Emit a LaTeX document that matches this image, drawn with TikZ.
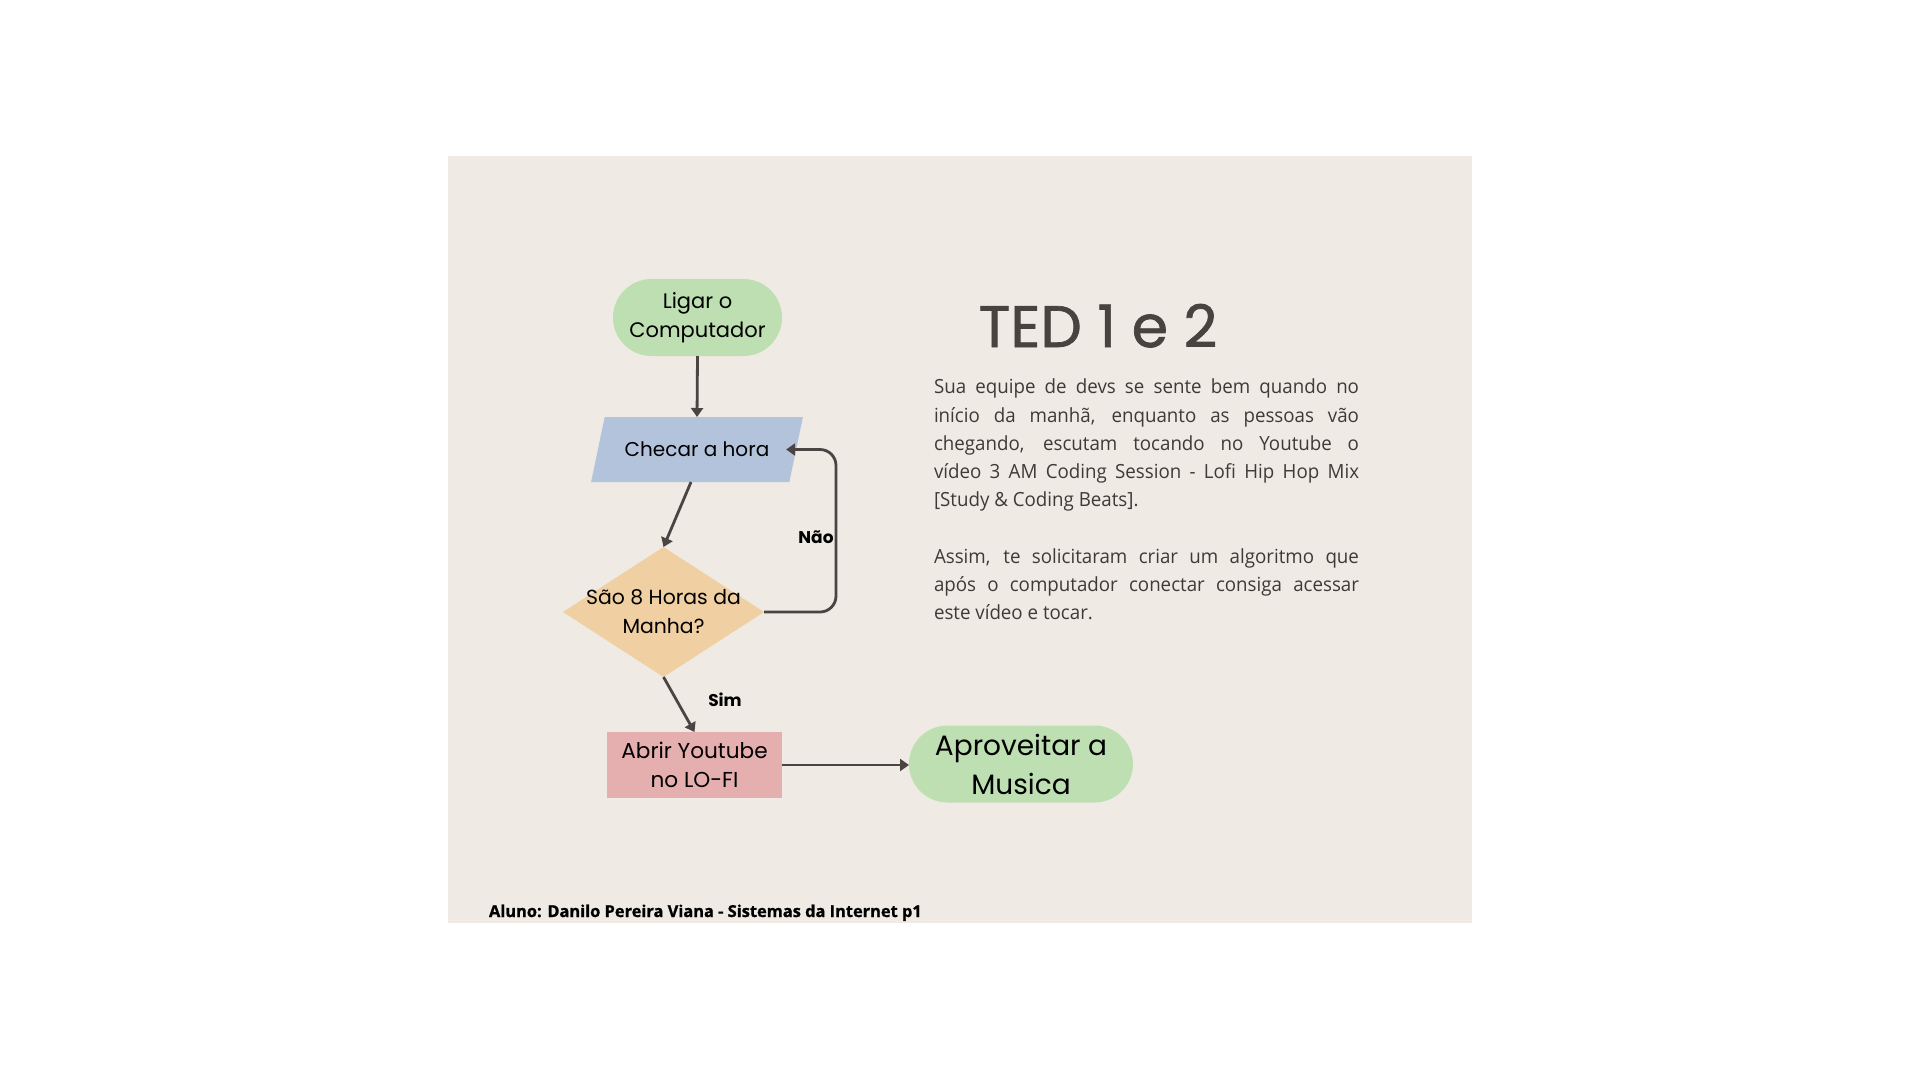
\documentclass[tikz,border=0pt]{standalone}
\usepackage{fontspec}
\setmainfont{Open Sans}
\newfontfamily\flowfont{Poppins}
\newfontfamily\titlefont[FakeBold=1.2]{Poppins}
\newfontfamily\bodyfont[FakeStretch=0.96]{Open Sans}
\newfontfamily\footfont[BoldFeatures={FakeBold=1}]{Open Sans}
\usetikzlibrary{shapes.geometric,shapes.misc,arrows.meta,calc}
\definecolor{panel}{HTML}{EFEAE4}
\definecolor{greenf}{HTML}{BDDFB2}
\definecolor{bluef}{HTML}{B4C3DC}
\definecolor{orangef}{HTML}{F0CFA2}
\definecolor{pinkf}{HTML}{E5AFAF}
\definecolor{arrowc}{HTML}{4A4543}
\definecolor{titlec}{HTML}{48433F}
\definecolor{bodyc}{HTML}{3F3A37}
\tikzset{
  every node/.style={inner sep=0pt, outer sep=0pt},
  flowlabel/.style={font=\flowfont\fontsize{20}{28.5}\selectfont, text=black, align=center},
  terminal/.style={flowlabel, rounded rectangle, fill=greenf},
  inputbox/.style={flowlabel, trapezium, trapezium left angle=54.7, trapezium right angle=125.3, trapezium stretches=true, fill=bluef},
  decision/.style={diamond, fill=orangef},
  process/.style={flowlabel, rectangle, fill=pinkf},
  arr/.style={draw=arrowc, line width=2.8pt, -{Triangle[length=9pt,width=12pt]}},
  edgelabel/.style={font=\flowfont\bfseries\fontsize{17}{20}\selectfont, text=black},
}
\begin{document}
\begin{tikzpicture}[x=1pt,y=-1pt]
\useasboundingbox (0,0) rectangle (1920,1080);
\fill[white] (0,0) rectangle (1920,1080);
\fill[panel] (448,156) rectangle (1472,923);

\node[terminal, font=\flowfont\fontsize{21}{29}\selectfont, minimum width=169pt, minimum height=77pt] (start) at (697.5,317.5) {Ligar o\\Computador};
\node[inputbox, minimum width=212pt, minimum height=65pt] (para) at (697,449.5) {Checar a hora};
\node[decision, minimum width=201pt, minimum height=130pt] (dia) at (663.5,612) {};
\node[flowlabel, font=\flowfont\fontsize{20.4}{29}\selectfont] (diatext) at (dia.center) {São 8 Horas da\\Manha?};
\node[process, font=\flowfont\fontsize{21.6}{28.5}\selectfont, minimum width=175pt, minimum height=66pt] (box) at (694.5,765) {Abrir Youtube\\no LO-FI};
\node[terminal, font=\flowfont\fontsize{28}{39}\selectfont, minimum width=224pt, minimum height=77pt] (end) at (1021,764) {Aproveitar a\\Musica};

\coordinate (loopx) at (836,0);
\draw[arr] (start.south) -- (para.north);
\draw[arr] ([xshift=-6pt]para.south) -- (dia.north);
\draw[arr, rounded corners=16pt] (dia.east) -- (dia.east -| loopx) -- (para.east -| loopx) -- ([xshift=-10pt]para.east);
\draw[arr] (dia.south) -- (box.north);
\draw[arr] (box.east) -- (box.east -| end.west);

\node[edgelabel] (nao) at (816,537) {Não};
\node[edgelabel] (sim) at (725,700) {Sim};

\node[font=\titlefont\fontsize{58.5}{60}\selectfont, text=titlec, anchor=base] (title) at (1098,347) {TED 1 e 2};

\node[font=\bodyfont\fontsize{19.5}{28.2}\selectfont, text=bodyc, text width=425pt, align=justify, anchor=north west] (body) at (934,379) {Sua equipe de devs se sente bem quando no\linebreak{} início da manhã, enquanto as pessoas vão\linebreak{} chegando, escutam tocando no Youtube o\linebreak{} vídeo 3 AM Coding Session - Lofi Hip Hop Mix\linebreak{} [Study \& Coding Beats].\par\vspace{28.2pt}Assim, te solicitaram criar um algoritmo que\linebreak{} após o computador conectar consiga acessar\linebreak{} este vídeo e tocar.};

\node[font=\footfont\bfseries\fontsize{16.4}{20}\selectfont, text=black, anchor=base west] (aluno) at (489,917) {Aluno: Danilo Pereira Viana - Sistemas da Internet p1};
\end{tikzpicture}
\end{document}
